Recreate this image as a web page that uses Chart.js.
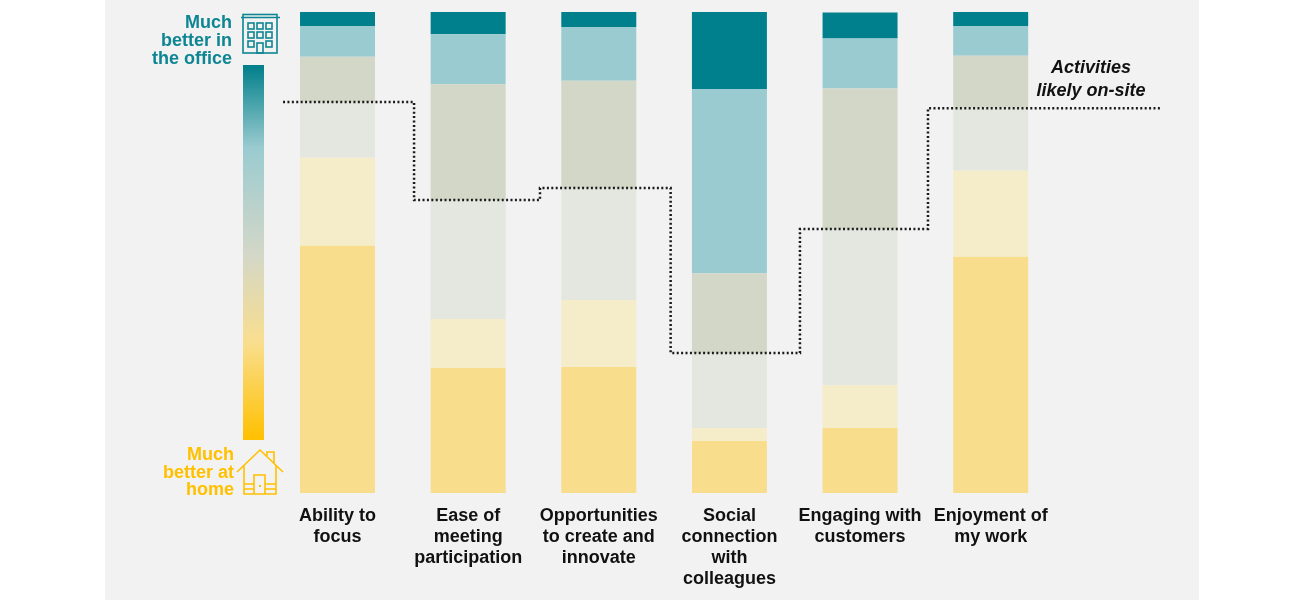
<!DOCTYPE html>
<html><head><meta charset="utf-8">
<style>html,body{margin:0;padding:0;background:#fff}#w{position:relative;width:1300px;height:600px;overflow:hidden}</style>
<script src="https://cdn.jsdelivr.net/npm/chart.js@4/dist/chart.umd.min.js"></script>
</head><body><div id="w"><canvas id="c" width="1300" height="600"></canvas></div>
<script>
const categories = [
  ['Ability to','focus'],
  ['Ease of','meeting','participation'],
  ['Opportunities','to create and','innovate'],
  ['Social','connection','with','colleagues'],
  ['Engaging with','customers'],
  ['Enjoyment of','my work']
];
const muchBetterHome = [51.4,26.0,26.2,10.8,13.5,49.1];
const betterHome     = [18.3,10.2,13.9, 2.7, 8.9,17.9];
const neutralHome    = [11.6,24.7,23.3,15.6,32.4,13.1];
const neutralOffice  = [ 9.4,24.1,22.3,16.6,29.3,10.8];
const betterOffice   = [ 6.4,10.4,11.2,38.3,10.4, 6.2];
const muchBetterOffice=[ 2.9, 4.6, 3.1,16.0, 5.4, 2.9];
const onSiteStepX = [-0.417,0.586,1.55,2.55,3.54,4.52,6.3];
const onSiteLevel = [81.3,60.9,63.4,29.1,54.9,80.0,80.0];

const TEAL='#0e8592', GOLD='#ffc000';
const annotations = {
  id:'annotations',
  beforeDraw(chart){
    const c=chart.ctx;
    c.save();
    c.fillStyle='#f2f2f2'; c.fillRect(105,0,1094,600);
    c.restore();
  },
  afterDraw(chart){
    const c=chart.ctx;
    c.save();
    const g=c.createLinearGradient(0,65,0,440);
    g.addColorStop(0,'#007f8a');
    g.addColorStop(0.22,'#9acbd0');
    g.addColorStop(0.5,'#d2d7c8');
    g.addColorStop(0.74,'#f9de8e');
    g.addColorStop(1,'#ffc000');
    c.fillStyle=g; c.fillRect(243,65,21,375);
    c.font='bold 18px "Liberation Sans"'; c.textAlign='right'; c.textBaseline='middle';
    c.fillStyle=TEAL;
    [['Much',23],['better in',41],['the office',59]].forEach(t=>c.fillText(t[0],232,t[1]));
    c.fillStyle=GOLD;
    [['Much',455],['better at',473],['home',490]].forEach(t=>c.fillText(t[0],234,t[1]));
    c.font='italic bold 18px "Liberation Sans"'; c.textAlign='center'; c.fillStyle='#111';
    c.fillText('Activities',1091,68); c.fillText('likely on-site',1091,91);
    c.strokeStyle=TEAL; c.lineWidth=1.6;
    c.strokeRect(243,14.5,34,38.5);
    c.beginPath(); c.moveTo(241,17.5); c.lineTo(280,17.5); c.stroke();
    [248,257,266].forEach(x=>[23,32,41].forEach(y=>{
      if(!(x===257&&y===41)) c.strokeRect(x,y,6,6);
    }));
    c.strokeRect(257,43,6,10);
    c.strokeStyle=GOLD; c.lineWidth=1.6;
    c.beginPath();
    c.moveTo(237,472); c.lineTo(260,450); c.lineTo(283,472);
    c.moveTo(267,456); c.lineTo(267,452); c.lineTo(274,452); c.lineTo(274,463);
    c.moveTo(244,466); c.lineTo(244,494); c.lineTo(276,494); c.lineTo(276,466);
    c.moveTo(244,489); c.lineTo(254,489); c.moveTo(265,489); c.lineTo(276,489);
    c.moveTo(244,484); c.lineTo(254,484); c.moveTo(265,484); c.lineTo(276,484);
    c.moveTo(254,494); c.lineTo(254,475); c.lineTo(265,475); c.lineTo(265,494);
    c.stroke();
    c.fillStyle=GOLD; c.fillRect(259,485,2,2);
    c.restore();
  }
};
const seg=(label,data,color)=>({label,data,backgroundColor:color,borderWidth:0,order:2,
  grouped:false,barPercentage:0.574,categoryPercentage:1});
new Chart(document.getElementById('c'),{
  type:'bar',
  data:{labels:categories,datasets:[
    seg('Much better at home',muchBetterHome,'#f8dd8c'),
    seg('Better at home',betterHome,'#f5edc9'),
    seg('Neutral, leaning home',neutralHome,'#e4e7df'),
    seg('Neutral, leaning office',neutralOffice,'#d2d7c8'),
    seg('Better in the office',betterOffice,'#9acbd0'),
    seg('Much better in the office',muchBetterOffice,'#00808c'),
    {type:'line',label:'Activities likely on-site',
      data:onSiteStepX.map((x,i)=>({x,y:onSiteLevel[i]})),
      xAxisID:'xLine',yAxisID:'y',stepped:true,clip:false,order:1,
      borderColor:'#1a1a1a',borderWidth:2.5,borderDash:[2,2.4],pointRadius:0,fill:false}
  ]},
  plugins:[annotations],
  options:{
    responsive:false,animation:false,
    layout:{padding:{left:272.2,right:244,top:12,bottom:0}},
    plugins:{legend:{display:false},tooltip:{enabled:false}},
    scales:{
      x:{type:'category',stacked:true,grid:{display:false},border:{display:false},
        afterFit(s){s.height=107;},
        ticks:{color:'#111',font:{family:'"Liberation Sans"',size:18,weight:'bold',lineHeight:1.167},
          maxRotation:0,autoSkip:false,padding:5}},
      xLine:{type:'linear',display:false,offset:false,min:-0.5,max:5.5},
      y:{stacked:true,display:false,min:0,max:100}
    }
  }
});
</script></body></html>
